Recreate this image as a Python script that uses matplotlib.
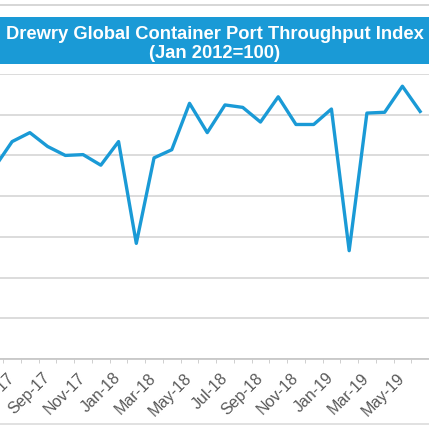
import matplotlib.pyplot as plt
from matplotlib.lines import Line2D
from matplotlib.patches import Rectangle

# Monthly index values, Jun-17 .. Jun-19
months = ["Jun-17", "Jul-17", "Aug-17", "Sep-17", "Oct-17", "Nov-17", "Dec-17",
          "Jan-18", "Feb-18", "Mar-18", "Apr-18", "May-18", "Jun-18",
          "Jul-18", "Aug-18", "Sep-18", "Oct-18", "Nov-18", "Dec-18",
          "Jan-19", "Feb-19", "Mar-19", "Apr-19", "May-19", "Jun-19"]
index_values = [123.5, 126.7, 127.8, 126.1, 125.0, 125.1, 123.8,
                126.7, 114.2, 124.7, 125.7, 131.4, 127.8,
                131.2, 130.9, 129.1, 132.2, 128.8, 128.8,
                130.7, 113.3, 130.2, 130.3, 133.5, 130.4]
y_ticks = [100, 105, 110, 115, 120, 125, 130, 135]

blue = "#1a9ad6"
grid_grey = "#d9d9d9"
label_grey = "#595959"

plt.rcParams['font.family'] = ['Liberation Sans', 'DejaVu Sans']

fig = plt.figure(figsize=(4.29, 4.33), dpi=100)
W, H = 429, 433

# outer frame line at top and title bar
fig.add_artist(Line2D([0, 1], [1 - 5 / H, 1 - 5 / H], color="#d0d0d0", lw=1.2))
fig.add_artist(Rectangle((0, 1 - 64 / H), 1, 47 / H, color=blue, lw=0))
fig.text(0.5, 1 - 44 / H, "Drewry Global Container Port Throughput Index\n(Jan 2012=100)",
         ha="center", va="center", color="white", fontsize=13.2, fontweight="bold",
         linespacing=1.2)
fig.add_artist(Line2D([0, 1], [1 - 424 / H, 1 - 424 / H], color="#dcdcdc", lw=1.2))

ax = fig.add_axes([0, (H - 359) / H, 1, (359 - 74) / H])
x = list(range(len(months)))
ax.plot(x, index_values, color=blue, lw=2.4, zorder=3)

step = 18.59
left_px = 12.7
ax.set_xlim(1 - left_px / step, 1 + (W - left_px) / step)
ax.set_ylim(y_ticks[0], y_ticks[-1])

ax.set_yticks(y_ticks)
ax.tick_params(axis="y", length=0, labelleft=False)
ax.grid(axis="y", color=grid_grey, lw=1.3)
ax.set_axisbelow(True)

# labels every other month, small tick marks between categories
label_pos = [i for i in x if i % 2 == 1]
ax.set_xticks(label_pos)
ax.set_xticklabels([months[i] for i in label_pos], rotation=45, ha="right",
                   va="center", rotation_mode="anchor",
                   fontsize=11.5, color=label_grey)
ax.tick_params(axis="x", which="major", length=0, pad=12)
ax.set_xticks([i + 0.5 for i in x], minor=True)
ax.tick_params(axis="x", which="minor", length=3, color="#c8c8c8")

for s in ["top", "left", "right"]:
    ax.spines[s].set_visible(False)
ax.spines["bottom"].set_color("#c8c8c8")
ax.spines["bottom"].set_linewidth(1.3)

fig.savefig("out.png", dpi=100)
